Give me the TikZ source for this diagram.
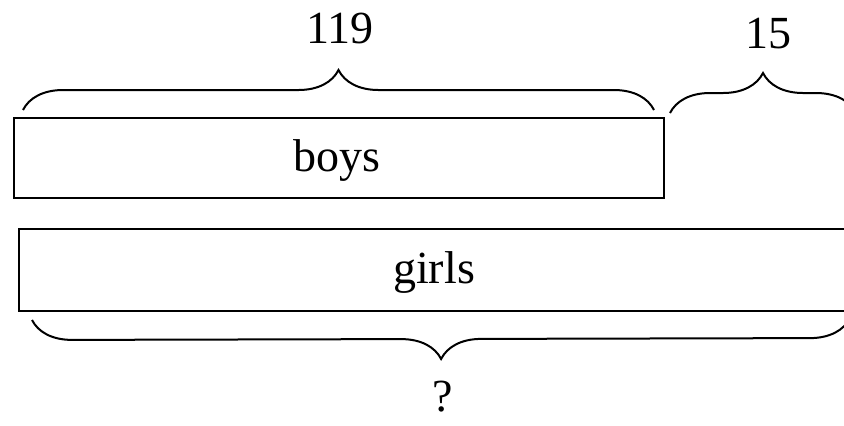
\documentclass[tikz,border=0pt]{standalone}
\usepackage{fontspec}
\setmainfont{Liberation Serif}
\usetikzlibrary{decorations.pathreplacing,calc}
\tikzstyle{bar}=[rectangle, draw=black, line width=1pt, inner sep=0pt, anchor=north west]
\tikzstyle{annot}=[align=center, inner sep=0pt, font=\fontsize{23}{27}\selectfont]
\tikzstyle{curly}=[decorate, decoration={brace, amplitude=20pt}, line width=1pt]

\begin{document}
\begin{tikzpicture}[x=0.5pt, y=-0.5pt]
	\useasboundingbox (0,0) rectangle (844,425);
	\clip (0,0) rectangle (844,425);

	\node[bar, minimum width=325pt, minimum height=40pt](boys) at (13,117){};
	\node[bar, minimum width=430pt, minimum height=41pt](girls) at (18,228){};

	\node[annot] (boystext) at (337,160) {boys};
	\node[annot] (girlstext) at (434,272) {girls};

	% braces
	\coordinate (b1) at ($(boys.north west)+(10,-7)$);
	\coordinate (b2) at ($(boys.north east)+(-11,-7)$);
	\coordinate (e1) at ($(boys.north east)+(5,-4)$);
	\coordinate (e2) at (856,113);
	\coordinate (g1) at ($(girls.south west)+(14,8)$);
	\coordinate (g2) at (850,318);
	\draw[curly] (b1) -- (b2);
	\draw[curly] (e1) -- (e2);
	\draw[curly] (g2) -- (g1);

	\node[annot] (total) at (340,28) {119};
	\node[annot] (extra) at (768,34) {15};
	\node[annot] (unknown) at (443,397) {?};

\end{tikzpicture}
\end{document}
